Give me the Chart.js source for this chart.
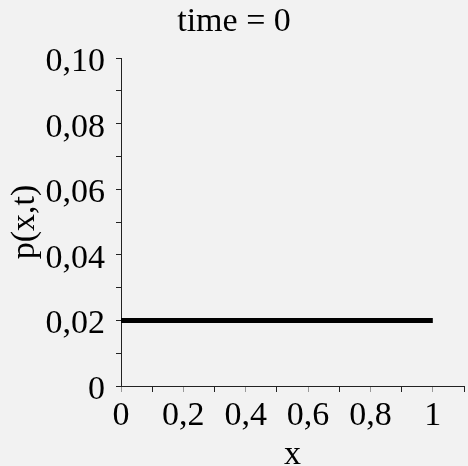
<!DOCTYPE html>
<html>
<head>
<meta charset="utf-8">
<script src="https://cdn.jsdelivr.net/npm/chart.js@4.4.0/dist/chart.umd.min.js"></script>
<style>
html,body{margin:0;padding:0;background:#f2f2f2;}
#wrap{width:468px;height:466px;}
</style>
</head>
<body>
<div id="wrap"><canvas id="c" width="468" height="466"></canvas></div>
<script>
const xValues = [0, 0.1, 0.2, 0.3, 0.4, 0.5, 0.6, 0.7, 0.8, 0.9, 1];
const pValues = [0.02, 0.02, 0.02, 0.02, 0.02, 0.02, 0.02, 0.02, 0.02, 0.02, 0.02];
const xTickValues = [0, 0.1, 0.2, 0.3, 0.4, 0.5, 0.6, 0.7, 0.8, 0.9, 1, 1.1];
const yTickValues = [0, 0.01, 0.02, 0.03, 0.04, 0.05, 0.06, 0.07, 0.08, 0.09, 0.1];
const xTickLabels = ['0', '0,2', '0,4', '0,6', '0,8', '1'];
const yTickLabels = ['0', '0,02', '0,04', '0,06', '0,08', '0,10'];
const titleText = 'time = 0';
const xTitle = 'x';
const yTitle = 'p(x,t)';

const FONT = "'Liberation Serif', 'DejaVu Serif', serif";
const AXIS = '#222222';

const bgPlugin = {
  id: 'bg',
  beforeDraw(chart) {
    const ctx = chart.ctx;
    ctx.save();
    ctx.fillStyle = '#f2f2f2';
    ctx.fillRect(0, 0, chart.width, chart.height);
    ctx.restore();
  }
};

new Chart(document.getElementById('c'), {
  type: 'line',
  data: {
    datasets: [{
      data: xValues.map((x, i) => ({x: x, y: pValues[i]})),
      borderColor: '#000000',
      borderWidth: 5,
      pointRadius: 0,
      fill: false,
      tension: 0
    }]
  },
  plugins: [bgPlugin],
  options: {
    responsive: false,
    animation: false,
    devicePixelRatio: 1,
    layout: {padding: 0},
    plugins: {
      legend: {display: false},
      tooltip: {enabled: false},
      title: {
        display: true,
        text: titleText,
        color: '#000',
        font: {family: FONT, size: 34, weight: 'normal', lineHeight: 1.2},
        padding: {top: 2, bottom: 15.2}
      }
    },
    scales: {
      x: {
        type: 'linear',
        min: 0,
        max: 1.1,
        afterFit(s) { s.height = 80; },
        afterBuildTicks(s) {
          s.ticks = xTickValues.map(v => ({value: v}));
        },
        border: {display: true, color: AXIS, width: 1},
        grid: {
          display: true, drawOnChartArea: false, drawTicks: true, tickLength: 6,
          color: AXIS,
          tickColor: (c) => (c.index % 2 === 0 ? '#999999' : '#222222')
        },
        ticks: {
          autoSkip: false,
          maxRotation: 0,
          padding: 4,
          color: '#000',
          font: {family: FONT, size: 34, lineHeight: 1.2},
          callback: (v, i) => (i % 2 === 0 && i / 2 < xTickLabels.length) ? xTickLabels[i / 2] : ''
        },
        title: {
          display: true,
          text: xTitle,
          color: '#000',
          font: {family: FONT, size: 34, lineHeight: 0.65},
          padding: {top: 0, bottom: 0}
        }
      },
      y: {
        type: 'linear',
        min: 0,
        max: 0.1,
        afterFit(s) { s.width = 121; },
        afterBuildTicks(s) {
          s.ticks = yTickValues.map(v => ({value: v}));
        },
        border: {display: true, color: AXIS, width: 1},
        grid: {
          display: true, drawOnChartArea: false, drawTicks: true, tickLength: 5,
          color: AXIS, tickColor: AXIS
        },
        ticks: {
          autoSkip: false,
          padding: 11,
          labelOffset: 4,
          color: '#000',
          font: {family: FONT, size: 34, lineHeight: 1.2},
          callback: (v, i) => (i % 2 === 0) ? yTickLabels[i / 2] : ''
        },
        title: {
          display: true,
          text: yTitle,
          color: '#000',
          font: {family: FONT, size: 34, lineHeight: 1.2},
          padding: {top: 5, bottom: 0}
        }
      }
    }
  }
});
</script>
</body>
</html>
